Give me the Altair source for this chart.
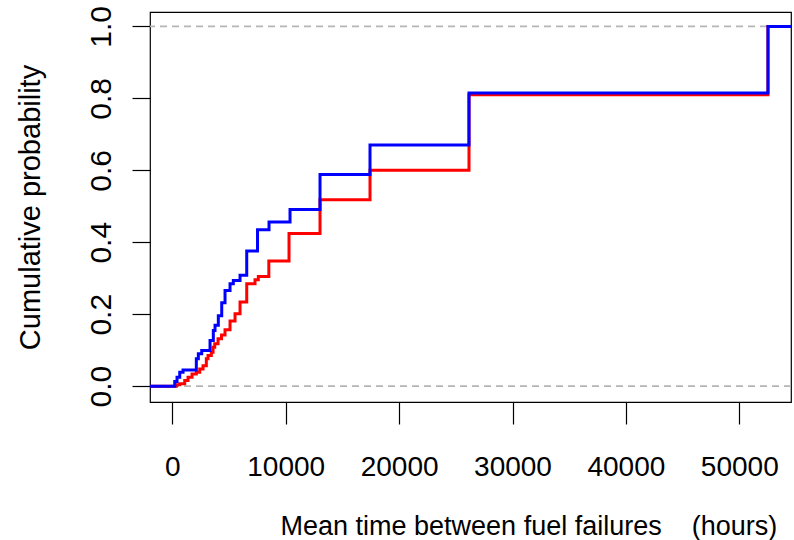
import altair as alt
import pandas as pd

# Empirical CDF step data (jump position in hours, level after the jump)
blue_x = [212, 414, 653, 944, 2116, 2293, 2592, 3324, 3615, 3765, 4056, 4356, 4647,
          5088, 5379, 5970, 6561, 7513, 8527, 10379, 13024, 17433, 26163, 52530]
blue_y = [0.013, 0.025, 0.039, 0.045, 0.076, 0.090, 0.099, 0.127, 0.155, 0.169, 0.196,
          0.232, 0.266, 0.285, 0.294, 0.308, 0.376, 0.435, 0.456, 0.491, 0.588, 0.670,
          0.815, 1.0]
red_x = [353, 653, 1093, 1384, 1737, 2116, 2416, 2707, 2998, 3148, 3439, 3589, 3739,
         4030, 4338, 4647, 5088, 5529, 5970, 6561, 7292, 7583, 8510, 10290, 13024,
         17433, 26163, 52530]
red_y = [0.004, 0.007, 0.016, 0.025, 0.034, 0.039, 0.048, 0.057, 0.076, 0.085, 0.094,
         0.108, 0.118, 0.132, 0.142, 0.157, 0.181, 0.201, 0.234, 0.285, 0.296, 0.305,
         0.348, 0.4245, 0.518, 0.600, 0.810, 1.0]

# ECDF extends beyond the data range on both sides (clipped by the frame)
x_start = -4000
x_end = 60000

x_ticks = [0, 10000, 20000, 30000, 40000, 50000]
y_ticks = [0.0, 0.2, 0.4, 0.6, 0.8, 1.0]
ref_levels = [0.0, 1.0]


def ecdf_frame(xs, ys):
    return pd.DataFrame({
        "x": [x_start] + xs + [x_end],
        "y": [0.0] + ys + [ys[-1]],
    })


blue_df = ecdf_frame(blue_x, blue_y)
red_df = ecdf_frame(red_x, red_y)
ref_df = pd.DataFrame({"y": ref_levels})

FONT = "Liberation Sans"

x_scale = alt.Scale(domain=[-1970, 54560], nice=False, zero=False)
y_scale = alt.Scale(domain=[-0.044, 1.04], nice=False, zero=False)

x_axis = alt.Axis(
    values=x_ticks, format="d", grid=False, domain=False,
    tickSize=22, tickColor="black", tickWidth=1.2,
    labelFont=FONT, labelFontSize=28, labelColor="black", labelPadding=29,
    labelOverlap=False, labelFlush=False,
    title="Mean time between fuel failures\u00a0\u00a0\u00a0\u00a0(hours)",
    titleFont=FONT, titleFontSize=27, titleFontWeight="normal", titleColor="black",
    titleX=130, titleY=132, titleAlign="left", titleBaseline="alphabetic",
)
y_axis = alt.Axis(
    values=y_ticks, format=".1f", grid=False, domain=False,
    tickSize=18, tickColor="black", tickWidth=1.2,
    labelFont=FONT, labelFontSize=30, labelColor="black", labelPadding=22,
    labelAngle=270, labelAlign="center", labelBaseline="alphabetic",
    labelOverlap=False, labelFlush=False,
    title="Cumulative probability",
    titleFont=FONT, titleFontSize=29, titleFontWeight="normal", titleColor="black",
    titleAngle=270, titleX=-111, titleY=195, titleAlign="center",
    titleBaseline="alphabetic",
)

refs = alt.Chart(ref_df).mark_rule(
    color="#b5b5b5", strokeDash=[7, 5], strokeWidth=1.6
).encode(
    y=alt.Y("y:Q", scale=y_scale, axis=y_axis),
)

red_line = alt.Chart(red_df).mark_line(
    interpolate="step-after", color="#ff0000", strokeWidth=3, clip=True
).encode(
    x=alt.X("x:Q", scale=x_scale, axis=x_axis),
    y=alt.Y("y:Q", scale=y_scale, axis=y_axis),
)

blue_line = alt.Chart(blue_df).mark_line(
    interpolate="step-after", color="#0000ff", strokeWidth=3, clip=True
).encode(
    x=alt.X("x:Q", scale=x_scale, axis=x_axis),
    y=alt.Y("y:Q", scale=y_scale, axis=y_axis),
)

chart = alt.layer(refs, red_line, blue_line).properties(
    width=641,
    height=390,
    autosize=alt.AutoSizeParams(type="none"),
    padding={"left": 150, "top": 12, "right": 3, "bottom": 138},
    background="white",
).configure_view(
    stroke="black", strokeWidth=1.2
)

chart.save("out.html", embed_options={"renderer": "svg", "actions": False})
